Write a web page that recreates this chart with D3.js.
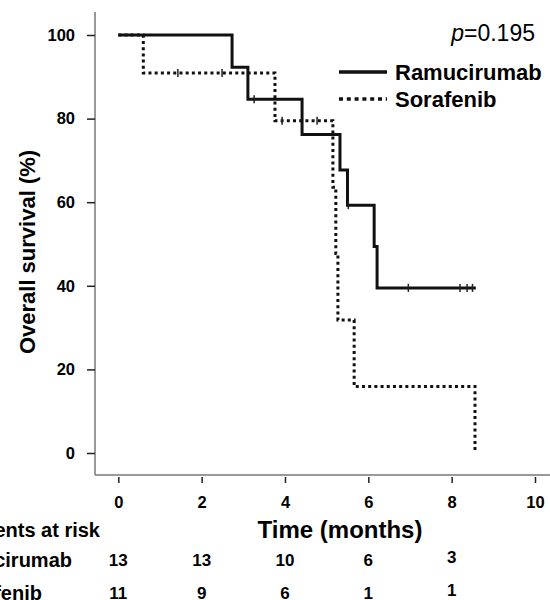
<!DOCTYPE html>
<html>
<head>
<meta charset="utf-8">
<script src="https://cdn.jsdelivr.net/npm/d3@7"></script>
<style>
  body { margin: 0; background: #fff; }
  svg { display: block; font-family: "Liberation Sans", Arial, sans-serif; }
</style>
</head>
<body>
<svg id="chart" width="550" height="600"></svg>
<script>
// Data
const ramEventTimes = [2.73, 3.11, 4.41, 5.32, 5.50, 6.14, 6.21]
const ramSurv = [92.3, 84.6, 76.2, 67.7, 59.3, 49.4, 39.5]
const ramCensor = [3.26, 5.52, 6.96, 8.20, 8.37, 8.50]
const ramEnd = 8.58

const sorEventTimes = [0.60, 3.76, 5.15, 5.22, 5.27, 5.66, 8.56]
const sorSurv = [90.9, 79.5, 63.6, 47.7, 31.8, 15.9, 0]
const sorCensor = [1.43, 2.49, 3.93, 4.77]
const sorEnd = 8.56

const xTicks = [0, 2, 4, 6, 8, 10]
const yTicks = [0, 20, 40, 60, 80, 100]
const riskTimes = [0, 2, 4, 6, 8]
const ramRisk = [13, 13, 10, 6, 3]
const sorRisk = [11, 9, 6, 1, 1]
const groups = ["Ramucirumab", "Sorafenib"]
const pText = "=0.195"

// Globals
const svg = d3.select("#chart")
const x = d3.scaleLinear().domain([0, 10]).range([118.3, 535])
const y = d3.scaleLinear().domain([0, 100]).range([453, 35])

function stepPoints(times, surv, end) {
  let pts = [[0, 100]]
  for (let i = 0; i < times.length; i++) pts.push([times[i], surv[i]])
  let last = pts[pts.length - 1]
  if (end > last[0]) pts.push([end, last[1]])
  return pts
}

function survAt(t, times, surv) {
  let s = 100
  for (let i = 0; i < times.length; i++) if (times[i] <= t) s = surv[i]
  return s
}

// axes
const yAxis = svg.append("g").attr("transform", "translate(95,0)")
  .call(d3.axisLeft(y).tickValues(yTicks).tickSize(8).tickPadding(12))
yAxis.select(".domain").attr("d", "M0,12V475").attr("stroke", "#777").attr("stroke-width", 1.5)

const xAxis = svg.append("g").attr("transform", "translate(0,475)")
  .call(d3.axisBottom(x).tickValues(xTicks).tickSize(8).tickPadding(13))
xAxis.select(".domain").attr("d", "M95,0H550").attr("stroke", "#777").attr("stroke-width", 1.5)

svg.selectAll(".tick line").attr("stroke", "#222").attr("stroke-width", 1.5)
xAxis.selectAll(".tick line").attr("y1", 2)
svg.selectAll(".tick text").attr("font-size", 16.5).attr("font-weight", "bold").attr("fill", "#000")
  .attr("font-family", "Liberation Sans, Arial, sans-serif")

svg.append("text").attr("transform", "translate(27,252) rotate(-90)")
  .attr("text-anchor", "middle").attr("dominant-baseline", "central")
  .attr("font-size", 22).attr("font-weight", "bold").text("Overall survival (%)")

svg.append("text").attr("x", 340).attr("y", 529)
  .attr("text-anchor", "middle").attr("dominant-baseline", "central")
  .attr("font-size", 24).attr("font-weight", "bold").text("Time (months)")

// curves
const line = d3.line().x(d => x(d[0])).y(d => y(d[1])).curve(d3.curveStepAfter)

svg.append("path").datum(stepPoints(sorEventTimes, sorSurv, sorEnd))
  .attr("d", line).attr("fill", "none").attr("stroke", "#111")
  .attr("stroke-width", 3).attr("stroke-dasharray", "3,3.2")

svg.append("path").datum(stepPoints(ramEventTimes, ramSurv, ramEnd))
  .attr("d", line).attr("fill", "none").attr("stroke", "#111")
  .attr("stroke-width", 3)

// censor marks
svg.selectAll(".cens-r").data(ramCensor).enter().append("line")
  .attr("x1", d => x(d)).attr("x2", d => x(d))
  .attr("y1", d => y(survAt(d, ramEventTimes, ramSurv)) - 4)
  .attr("y2", d => y(survAt(d, ramEventTimes, ramSurv)) + 4)
  .attr("stroke", "#222").attr("stroke-width", 1.5)

svg.selectAll(".cens-s").data(sorCensor).enter().append("line")
  .attr("x1", d => x(d)).attr("x2", d => x(d))
  .attr("y1", d => y(survAt(d, sorEventTimes, sorSurv)) - 4)
  .attr("y2", d => y(survAt(d, sorEventTimes, sorSurv)) + 4)
  .attr("stroke", "#222").attr("stroke-width", 1.5)

// legend
svg.append("text").attr("x", 535).attr("y", 33).attr("text-anchor", "end")
  .attr("dominant-baseline", "central").attr("font-size", 23)
  .call(t => {
    t.append("tspan").attr("font-style", "italic").text("p")
    t.append("tspan").text(pText)
  })

const legend = svg.append("g")
groups.forEach((g, i) => {
  let ly = 72 + i * 27
  legend.append("line").attr("x1", 339).attr("x2", 387).attr("y1", ly).attr("y2", ly)
    .attr("stroke", "#111").attr("stroke-width", 3.5)
    .attr("stroke-dasharray", i === 1 ? "4,3.8" : null)
  legend.append("text").attr("x", 395).attr("y", ly).attr("dominant-baseline", "central")
    .attr("font-size", 22).attr("font-weight", "bold").text(g)
})

// risk table
const rows = [["Patients at risk", 100, 530], ["Ramucirumab", 72, 560], ["Sorafenib", 42, 593]]
rows.forEach(r => {
  svg.append("text").attr("x", r[1]).attr("y", r[2]).attr("text-anchor", "end")
    .attr("dominant-baseline", "central").attr("font-size", 20).attr("font-weight", "bold").text(r[0])
})
;[ramRisk, sorRisk].forEach((vals, i) => {
  svg.selectAll(".risk" + i).data(vals).enter().append("text")
    .attr("x", (d, j) => x(riskTimes[j]))
    .attr("y", (d, j) => (i === 0 ? 560 : 593) - (j === 4 ? 3 : 0))
    .attr("text-anchor", "middle").attr("dominant-baseline", "central")
    .attr("font-size", 17).attr("font-weight", "bold").attr("fill", "#000").text(d => d)
})
</script>
</body>
</html>
